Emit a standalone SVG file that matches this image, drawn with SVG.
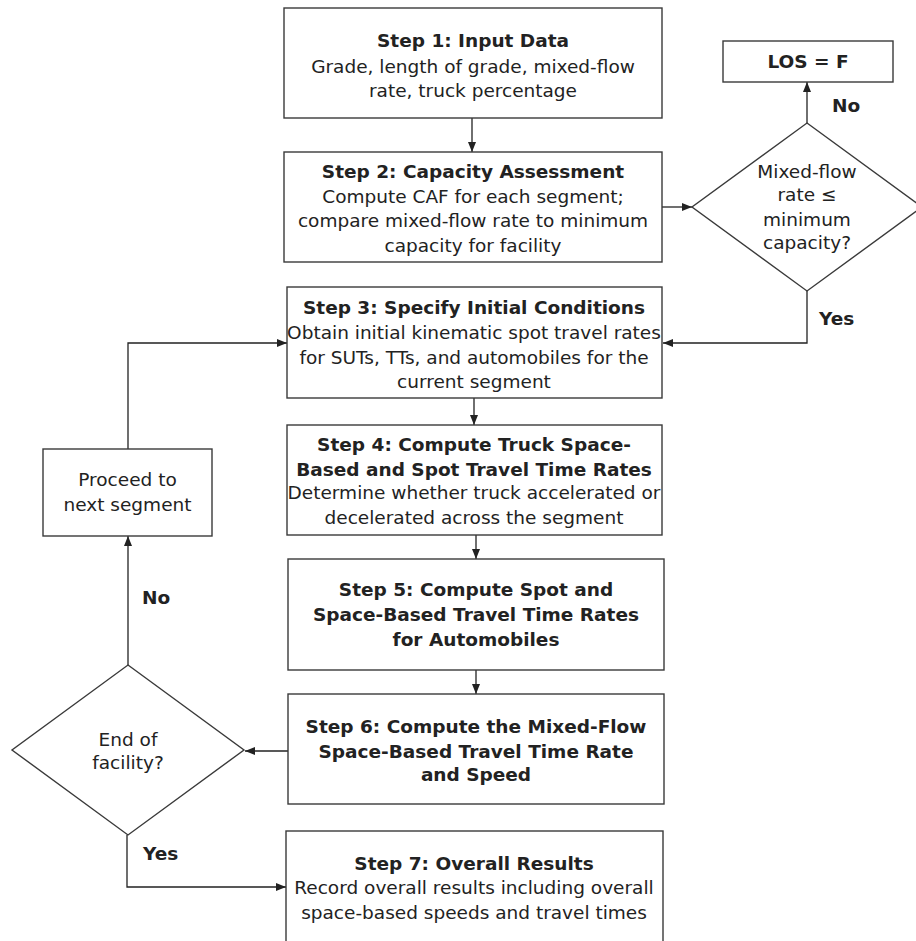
<svg xmlns="http://www.w3.org/2000/svg" width="916" height="941" viewBox="0 0 916 941">
  <style>
    text { font-family: "DejaVu Sans", "Liberation Sans", sans-serif; font-size: 18.5px; fill: #222; text-anchor: middle; }
    .b { font-weight: bold; }
    .lbl { font-weight: bold; text-anchor: start; }
    .box { fill: #fff; stroke: #3a3a3a; stroke-width: 1.4; }
    .conn { fill: none; stroke: #222; stroke-width: 1.3; }
  </style>
  <defs>
    <marker id="arrow" markerWidth="10" markerHeight="8" refX="10" refY="4" orient="auto" markerUnits="userSpaceOnUse">
      <path d="M0,0 L10,4 L0,8 Z" fill="#222"/>
    </marker>
  </defs>
  <rect width="916" height="941" fill="#fff"/>

  <g id="connectors">
    <path class="conn" d="M472,118 V152" marker-end="url(#arrow)"/>
    <path class="conn" d="M662,207 H692" marker-end="url(#arrow)"/>
    <path class="conn" d="M807,123 V82" marker-end="url(#arrow)"/>
    <path class="conn" d="M807,291 V343 H663" marker-end="url(#arrow)"/>
    <path class="conn" d="M474,398 V425" marker-end="url(#arrow)"/>
    <path class="conn" d="M476,535 V559" marker-end="url(#arrow)"/>
    <path class="conn" d="M476,670 V694" marker-end="url(#arrow)"/>
    <path class="conn" d="M288,751 H245" marker-end="url(#arrow)"/>
    <path class="conn" d="M128,665 V536" marker-end="url(#arrow)"/>
    <path class="conn" d="M128,449 V343 H287" marker-end="url(#arrow)"/>
    <path class="conn" d="M127,835 V887 H286" marker-end="url(#arrow)"/>
    <text class="lbl" x="832" y="112">No</text>
    <text class="lbl" x="819" y="325">Yes</text>
    <text class="lbl" x="142" y="604">No</text>
    <text class="lbl" x="143" y="860">Yes</text>
  </g>

  <g id="step1">
    <rect class="box" x="284" y="8" width="378" height="110"/>
    <text class="b" x="473" y="47">Step 1: Input Data</text>
    <text x="473" y="73">Grade, length of grade, mixed-flow</text>
    <text x="473" y="97">rate, truck percentage</text>
  </g>

  <g id="step2">
    <rect class="box" x="284" y="152" width="378" height="110"/>
    <text class="b" x="473" y="178">Step 2: Capacity Assessment</text>
    <text x="473" y="203">Compute CAF for each segment;</text>
    <text x="473" y="227">compare mixed-flow rate to minimum</text>
    <text x="473" y="252">capacity for facility</text>
  </g>

  <g id="capacity-check">
    <polygon class="box" points="807,123 922,207 807,291 692,207"/>
    <text x="807" y="178">Mixed-flow</text>
    <text x="807" y="201">rate ≤</text>
    <text x="807" y="226">minimum</text>
    <text x="807" y="249">capacity?</text>
  </g>

  <g id="los-f">
    <rect class="box" x="723" y="41" width="170" height="41"/>
    <text class="b" x="808" y="68">LOS = F</text>
  </g>

  <g id="step3">
    <rect class="box" x="287" y="287" width="375" height="111"/>
    <text class="b" x="474" y="314">Step 3: Specify Initial Conditions</text>
    <text x="474" y="339">Obtain initial kinematic spot travel rates</text>
    <text x="474" y="364">for SUTs, TTs, and automobiles for the</text>
    <text x="474" y="388">current segment</text>
  </g>

  <g id="step4">
    <rect class="box" x="287" y="425" width="375" height="110"/>
    <text class="b" x="474" y="451">Step 4: Compute Truck Space-</text>
    <text class="b" x="474" y="476">Based and Spot Travel Time Rates</text>
    <text x="474" y="499">Determine whether truck accelerated or</text>
    <text x="474" y="524">decelerated across the segment</text>
  </g>

  <g id="step5">
    <rect class="box" x="288" y="559" width="376" height="111"/>
    <text class="b" x="476" y="596">Step 5: Compute Spot and</text>
    <text class="b" x="476" y="621">Space-Based Travel Time Rates</text>
    <text class="b" x="476" y="646">for Automobiles</text>
  </g>

  <g id="step6">
    <rect class="box" x="288" y="694" width="376" height="110"/>
    <text class="b" x="476" y="733">Step 6: Compute the Mixed-Flow</text>
    <text class="b" x="476" y="758">Space-Based Travel Time Rate</text>
    <text class="b" x="476" y="781">and Speed</text>
  </g>

  <g id="end-check">
    <polygon class="box" points="128,665 244,750 128,835 12,750"/>
    <text x="128" y="746">End of</text>
    <text x="128" y="769">facility?</text>
  </g>

  <g id="next-segment">
    <rect class="box" x="43" y="449" width="169" height="87"/>
    <text x="127.5" y="486">Proceed to</text>
    <text x="127.5" y="511">next segment</text>
  </g>

  <g id="step7">
    <rect class="box" x="286" y="831" width="377" height="120"/>
    <text class="b" x="474" y="870">Step 7: Overall Results</text>
    <text x="474" y="894">Record overall results including overall</text>
    <text x="474" y="919">space-based speeds and travel times</text>
  </g>
</svg>
